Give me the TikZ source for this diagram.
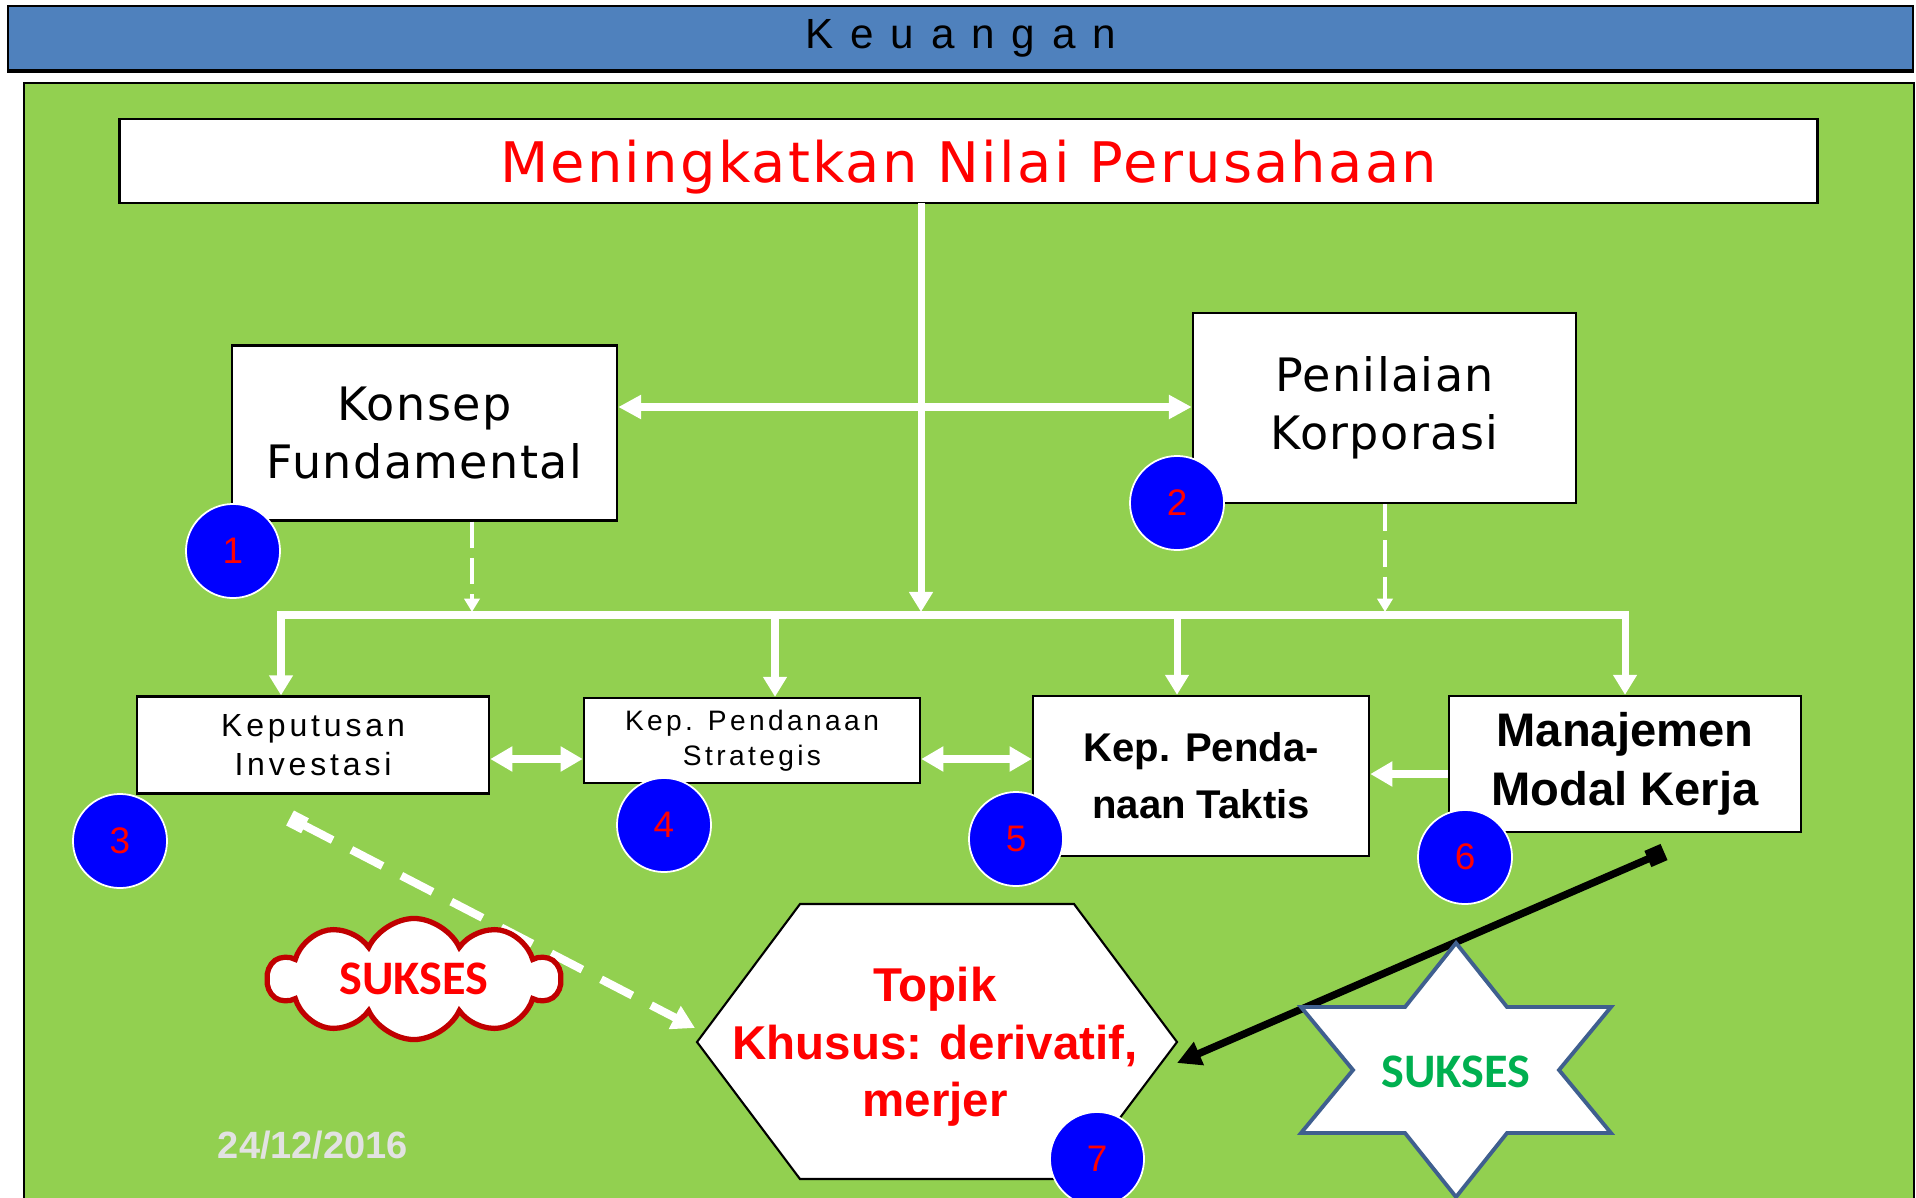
\documentclass[tikz,border=0pt]{standalone}
\usepackage{fontspec}
\setmainfont{DejaVu Sans}
\newfontfamily\arialf{Liberation Sans}
\newfontfamily\arialsp[LetterSpace=12]{Liberation Sans}
\newfontfamily\arialwide[LetterSpace=40]{Liberation Sans}
\newfontfamily\dejasp[LetterSpace=4]{DejaVu Sans}
\newfontfamily\dejasml[LetterSpace=3]{DejaVu Sans}
\newfontfamily\calibf{Carlito}
\usetikzlibrary{arrows.meta,shapes.geometric,shapes.symbols,calc}
\definecolor{hdrblue}{HTML}{4F81BD}
\definecolor{bggreen}{HTML}{92D050}
\definecolor{cloudred}{HTML}{C00000}
\definecolor{starblue}{HTML}{3F5F8F}
\definecolor{sukgreen}{HTML}{00B050}
\definecolor{dategray}{HTML}{E2E2E2}
\tikzset{
  wbox/.style={draw=black, line width=0.65pt, fill=white, inner sep=0pt, align=center},
  numc/.style={circle, fill=blue, draw=white, line width=0.5pt, minimum size=0.94cm, inner sep=0pt, text=red, font=\arialf\fontsize{10.5}{12}\selectfont},
  warrow/.style={draw=white, line width=2pt, -{Triangle[length=5.7pt,width=6.5pt]}},
  wdbl/.style={draw=white, line width=2pt, {Triangle[length=6.5pt,width=6.5pt]}-{Triangle[length=6.5pt,width=6.5pt]}},
  wbig/.style={draw=white, line width=2.5pt, {Triangle[length=6.3pt,width=6.8pt]}-{Triangle[length=6.3pt,width=6.8pt]}},
  wbigone/.style={draw=white, line width=2.5pt, -{Triangle[length=6.3pt,width=6.8pt]}},
  wdash/.style={draw=white, line width=1.4pt, dash pattern=on 7.5pt off 2.8pt, -{Triangle[length=3.8pt,width=4.3pt]}},
  busline/.style={draw=white, line width=2pt, line cap=rect},
}
\begin{document}
\begin{tikzpicture}[x=0.01cm,y=-0.01cm]
\useasboundingbox (0,0) rectangle (1916,1197);
\fill[white] (0,0) rectangle (1916,1197);
% header
\node[draw=black, line width=0.5pt, fill=hdrblue, minimum width=19.04cm, minimum height=0.64cm, inner sep=0pt,
      font=\arialwide\fontsize{12}{14}\selectfont] (hdr) at (960.75,38) {Keuangan};
\draw[line width=1.2pt] (hdr.south west) -- (hdr.south east);
% green panel
\draw[fill=bggreen, line width=0.5pt] (24,83) rectangle (1914,1230);
% top box
\node[wbox, minimum width=16.97cm, minimum height=0.84cm] (top) at (968.5,161) {};
\node[text=red, inner sep=0pt, font=\dejasp\fontsize{15.9}{18}\selectfont] (toptext) at (968.5,167) {Meningkatkan Nilai Perusahaan};
% level 2 boxes
\node[wbox, minimum width=3.85cm, minimum height=1.75cm, font=\dejasml\fontsize{13.1}{16.5}\selectfont] (konsep) at (424.5,433) {Konsep\\Fundamental};
\node[wbox, minimum width=3.83cm, minimum height=1.90cm, font=\dejasml\fontsize{13.1}{16.5}\selectfont] (penilaian) at (1384.5,408) {Penilaian\\Korporasi};
% level 3 boxes
\node[wbox, minimum width=3.52cm, minimum height=0.97cm, font=\arialsp\fontsize{9.1}{11.1}\selectfont] (kep3) at (313,745) {Keputusan\\Investasi};
\node[wbox, minimum width=3.36cm, minimum height=0.85cm, font=\arialsp\fontsize{8}{10}\selectfont] (kep4) at (752,740.5) {Kep. Pendanaan\\Strategis};
\node[wbox, minimum width=3.36cm, minimum height=1.60cm, font=\arialf\bfseries\fontsize{11.4}{16.2}\selectfont] (kep5) at (1201,776) {Kep. Penda-\\naan Taktis};
\node[wbox, minimum width=3.52cm, minimum height=1.36cm, font=\arialf\bfseries\fontsize{13.4}{16.8}\selectfont] (kep6) at (1625,764) {Manajemen\\Modal Kerja};
% coordinates
\coordinate (vtop) at (921,203);
\coordinate (vmid) at (921,407);
\coordinate (vbot) at (921,615);
\coordinate (b3) at (281,615);
\coordinate (b4) at (775,615);
\coordinate (b5) at (1177,615);
\coordinate (b6) at (1625,615);
\coordinate (d1) at (472,615);
\coordinate (d2) at (1385,615);
\coordinate (r1) at (0,759);
\coordinate (r2) at (0,774);
% connectors
\draw[busline] (b3) -- (b6);
\draw[warrow] (vtop) -- ($(vbot)+(0,-3)$);
\draw[wdbl] (vmid -| konsep.east) -- (vmid -| penilaian.west);
\draw[wdash] (d1 |- konsep.south) -- ($(d1)+(0,-3)$);
\draw[wdash] (d2 |- penilaian.south) -- ($(d2)+(0,-3)$);
\draw[warrow] (b3) -- (b3 |- kep3.north);
\draw[warrow] (b4) -- (b4 |- kep4.north);
\draw[warrow] (b5) -- (b5 |- kep5.north);
\draw[warrow] (b6) -- (b6 |- kep6.north);
\draw[wbig] (kep3.east |- r1) -- (kep4.west |- r1);
\draw[wbig] (kep4.east |- r1) -- (kep5.west |- r1);
\draw[wbigone] (kep6.west |- r2) -- (kep5.east |- r2);
% number circles
\node[numc] (n1) at (233,551) {1};
\node[numc] (n2) at (1177,503) {2};
\node[numc] (n3) at (120,841) {3};
\node[numc] (n4) at (664,825) {4};
\node[numc] (n5) at (1016,839) {5};
\node[numc] (n6) at (1465,857) {6};
% dashed white double arrow
\coordinate (k3b) at (290,818);
\coordinate (hexl) at (695,1028);
\draw[white, line width=2.3pt, dash pattern=on 10pt off 6pt,
      {Square[length=4.8pt,width=4.8pt]}-{Triangle[length=6.5pt,width=7pt]}] (k3b) -- (hexl);
% cloud
\node[cloud, cloud puffs=10, cloud puff arc=130, cloud ignores aspect, draw=cloudred, line width=1.5pt, fill=white,
      minimum width=2.92cm, minimum height=1.21cm, inner sep=0pt, text=red,
      font=\calibf\bfseries\fontsize{13.7}{16}\selectfont] (cloud) at (414,979) {SUKSES};
% hexagon
\draw[fill=white, line width=0.6pt] (800,904) -- (1074,904) -- (1177,1042) -- (1074,1179) -- (800,1179) -- (697,1042) -- cycle;
\node[align=center, text=red, font=\arialf\bfseries\fontsize{13.5}{16.4}\selectfont] (hex) at (935,1047) {Topik\\Khusus: derivatif,\\merjer};
\node[numc] (n7) at (1097,1159) {7};
% black arrow
\coordinate (m6) at (1664,852);
\coordinate (hexr) at (1177,1063);
\draw[black, line width=2.1pt, {Square[length=5pt,width=5pt]}-{Triangle[length=6.8pt,width=6.8pt]}] (m6) -- (hexr);
% star
\begin{scope}[shift={(1456,1070)}]
\draw[fill=white, draw=starblue, line width=1.1pt, line join=miter]
  (0,-127) -- (51,-63) -- (155,-63) -- (103,0) -- (155,63) -- (51,63) -- (0,127) -- (-51,63) -- (-155,63) -- (-103,0) -- (-155,-63) -- (-51,-63) -- cycle;
\end{scope}
\node[text=sukgreen, font=\calibf\bfseries\fontsize{13.7}{16}\selectfont] (star) at (1456,1072) {SUKSES};
% date
\node[text=dategray, font=\arialf\bfseries\fontsize{10.8}{12}\selectfont] (date) at (313,1145) {24/12/2016};
\end{tikzpicture}
\end{document}
